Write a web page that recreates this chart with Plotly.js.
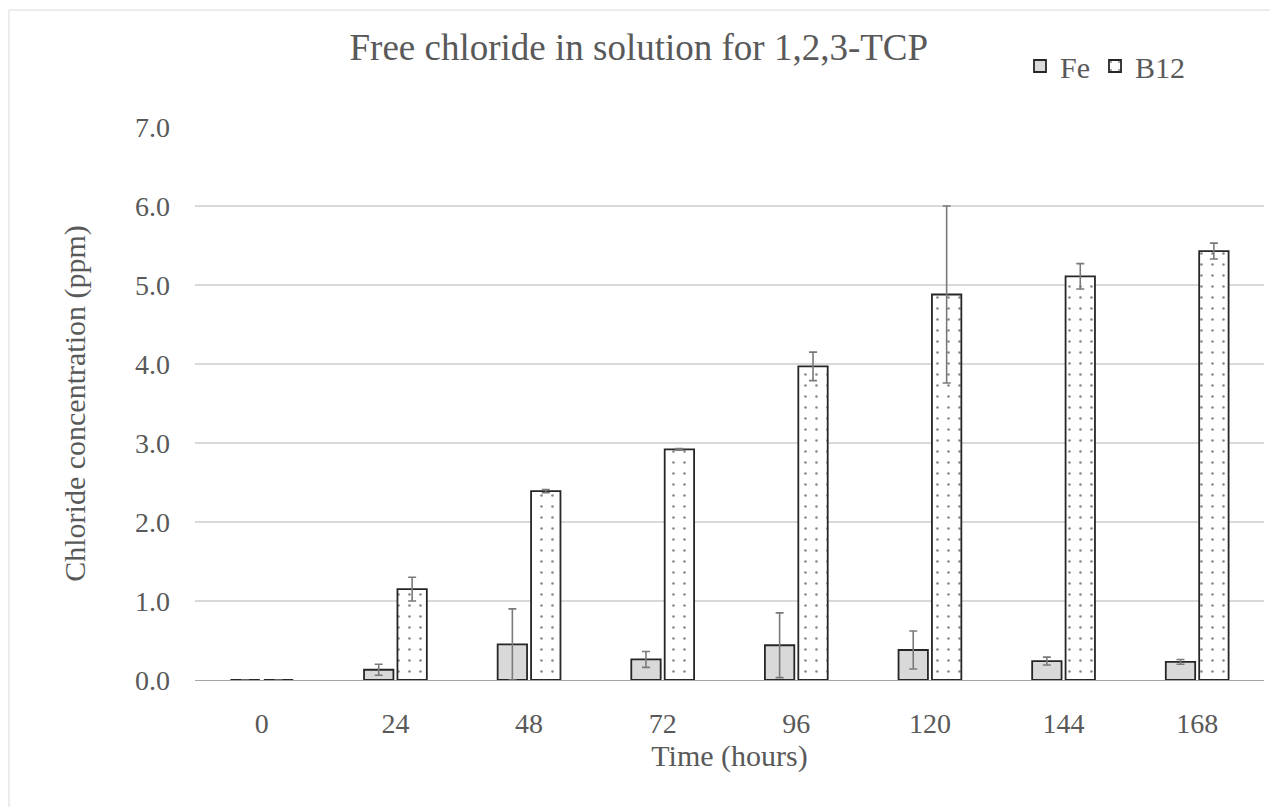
<!DOCTYPE html>
<html>
<head>
<meta charset="utf-8">
<script src="https://cdn.plot.ly/plotly-3.0.1.min.js"></script>
<style>
html,body{margin:0;padding:0;background:#fff;}
#chart{width:1270px;height:807px;}
</style>
</head>
<body>
<div id="chart"></div>
<script>
const categories = ["0", "24", "48", "72", "96", "120", "144", "168"];
const feValues  = [0, 0.13, 0.45, 0.26, 0.44, 0.38, 0.24, 0.23];
const feErrors  = [0, 0.07, 0.45, 0.10, 0.41, 0.24, 0.05, 0.03];
const b12Values = [0, 1.15, 2.39, 2.92, 3.97, 4.88, 5.11, 5.43];
const b12Errors = [0, 0.15, 0.02, 0.01, 0.18, 1.12, 0.16, 0.10];
const yTicks = [0, 1, 2, 3, 4, 5, 6, 7];

const textColor = '#595959';
const fontFam = '"Liberation Serif", "Times New Roman", serif';

const errStyle = {type: 'data', visible: true, color: '#7a7a7a', thickness: 1.6, width: 4};

const traces = [
  {
    type: 'bar', name: 'Fe', x: categories, y: feValues,
    error_y: Object.assign({array: feErrors}, errStyle),
    marker: {color: '#d9d9d9', line: {color: '#262626', width: 1.8}}
  },
  {
    type: 'bar', name: 'B12', x: categories, y: b12Values,
    error_y: Object.assign({array: b12Errors}, errStyle),
    marker: {color: '#ffffff', line: {color: '#262626', width: 1.8},
      pattern: {shape: '.', fgcolor: '#111111', bgcolor: '#ffffff', size: 11, solidity: 0.045, fillmode: 'overlay'}}
  }
];

const layout = {
  width: 1270, height: 807,
  margin: {l: 195, r: 6, t: 127, b: 127},
  paper_bgcolor: '#ffffff', plot_bgcolor: '#ffffff',
  font: {family: fontFam, color: textColor, size: 28},
  title: {text: 'Free chloride in solution for 1,2,3-TCP', font: {family: fontFam, size: 37, color: textColor},
    x: 0.503, xref: 'container', xanchor: 'center', y: 1 - 47/807, yref: 'container', yanchor: 'middle'},
  barmode: 'group', bargap: 0.5, bargroupgap: 0.12,
  showlegend: true,
  legend: {orientation: 'h', x: 1020/1270, xref: 'container', xanchor: 'left', y: 1 - 66/807, yref: 'container', yanchor: 'middle',
    font: {family: fontFam, size: 30, color: textColor}, bgcolor: 'rgba(0,0,0,0)', traceorder: 'normal'},
  xaxis: {
    type: 'category', showgrid: false, showline: true, linecolor: '#a6a6a6', linewidth: 1.3,
    ticks: '', tickfont: {family: fontFam, size: 28, color: textColor}, ticklabelstandoff: 18,
    title: {text: 'Time (hours)', font: {family: fontFam, size: 30, color: textColor}, standoff: 6},
    automargin: false, fixedrange: true
  },
  yaxis: {
    range: [0, 7], tickvals: yTicks, tickformat: '.1f', showgrid: true, gridcolor: '#d9d9d9', gridwidth: 1.3,
    zeroline: false, showline: false, ticks: '', tickfont: {family: fontFam, size: 28, color: textColor},
    ticklabelstandoff: 24,
    title: {text: 'Chloride concentration (ppm)', font: {family: fontFam, size: 30, color: textColor}, standoff: 40},
    automargin: false, fixedrange: true
  },
  shapes: [{type: 'rect', xref: 'paper', yref: 'paper', x0: (9-195)/1069, x1: 1.02, y0: -0.25, y1: (680-10)/553,
    line: {color: '#d9d9d9', width: 1}, fillcolor: 'rgba(0,0,0,0)', layer: 'below'}]
};

Plotly.newPlot('chart', traces, layout, {displayModeBar: false, staticPlot: true});
</script>
</body>
</html>
